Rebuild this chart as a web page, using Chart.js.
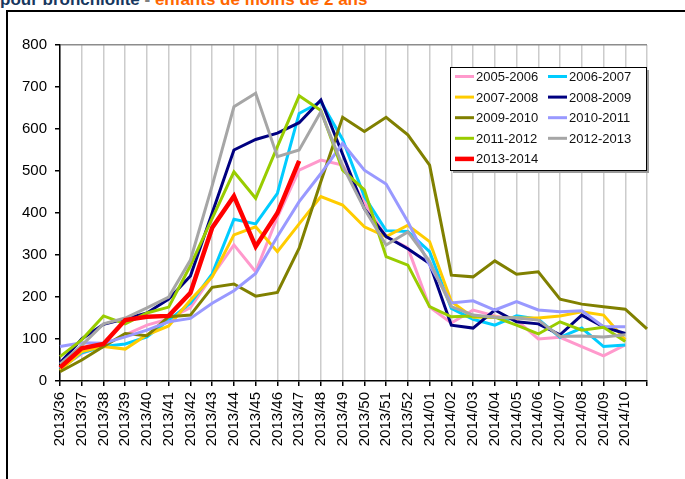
<!DOCTYPE html>
<html>
<head>
<meta charset="utf-8">
<script src="https://cdn.jsdelivr.net/npm/chart.js@4.4.1/dist/chart.umd.min.js"></script>
<style>
  html, body { margin: 0; padding: 0; background: #fff; overflow: hidden; }
  #wrap { position: relative; width: 685px; height: 479px; }
  #frame { position: absolute; left: 6px; top: 10px; width: 800px; height: 600px; border: 2px solid #000; }
  #title { position: absolute; left: 0; top: -10px; font: bold 17px "Liberation Sans", Arial, sans-serif; white-space: nowrap; }
  #title .a { color: #17375e; }
  #title .b { color: #7f7f7f; }
  #title .c { color: #ff6600; }
  canvas { position: absolute; left: 0; top: 0; }
</style>
</head>
<body>
<div id="wrap">
  <div id="title"><span class="a">pour bronchiolite</span><span class="b"> - </span><span class="c">enfants de moins de 2 ans</span></div>
  <div id="frame"></div>
  <canvas id="chart" width="685" height="479"></canvas>
</div>
<script>
// semaines (la dernière n'a pas d'étiquette)
const weeks = ['2013/36','2013/37','2013/38','2013/39','2013/40','2013/41','2013/42','2013/43','2013/44',
  '2013/45','2013/46','2013/47','2013/48','2013/49','2013/50','2013/51','2013/52','2014/01','2014/02',
  '2014/03','2014/04','2014/05','2014/06','2014/07','2014/08','2014/09','2014/10',''];

const yTicks = [0, 100, 200, 300, 400, 500, 600, 700, 800];

const seasons = ['2005-2006','2006-2007','2007-2008','2008-2009','2009-2010','2010-2011','2011-2012','2012-2013','2013-2014'];
const colors = ['#ff99cc','#00ccff','#ffcc00','#000080','#808000','#9999ff','#99cc00','#a6a6a6','#ff0000'];

const s0506 = [30, 65, 85, 110, 133, 148, 175, 250, 324, 260, 390, 502, 526, 514, 425, 344, 317, 176, 138, 169, 155, 145, 100, 104, 82, 60, 86, null];
const s0607 = [28, 67, 82, 88, 105, 145, 185, 255, 385, 374, 447, 637, 665, 575, 439, 358, 356, 308, 173, 147, 133, 155, 147, 104, 126, 82, 86, null];
const s0708 = [25, 70, 82, 76, 110, 131, 193, 248, 348, 367, 308, 374, 439, 419, 367, 344, 371, 332, 189, 152, 152, 150, 150, 155, 165, 157, 98, null];
const s0809 = [43, 100, 135, 148, 162, 195, 250, 400, 550, 575, 590, 615, 669, 540, 410, 344, 315, 280, 133, 126, 169, 141, 136, 110, 157, 129, 113, null];
const s0910 = [22, 50, 82, 113, 108, 153, 157, 223, 231, 202, 211, 316, 475, 628, 594, 628, 586, 514, 252, 248, 286, 254, 260, 195, 183, 177, 171, 124];
const s1011 = [82, 91, 90, 105, 121, 141, 149, 185, 215, 256, 344, 427, 494, 566, 502, 469, 379, 276, 186, 191, 169, 189, 169, 165, 167, 129, 129, null];
const s1112 = [58, 98, 155, 136, 162, 176, 275, 387, 498, 435, 558, 679, 644, 502, 455, 296, 276, 177, 153, 155, 152, 133, 112, 141, 121, 128, 94, null];
const s1213 = [40, 85, 136, 150, 174, 200, 288, 465, 653, 685, 534, 550, 641, 512, 410, 324, 355, 285, 177, 157, 152, 150, 145, 106, 107, 105, 110, null];
const s1314 = [32, 78, 88, 145, 153, 155, 210, 365, 440, 320, 400, 524];

const seriesData = [s0506, s0607, s0708, s0809, s0910, s1011, s1112, s1213, s1314];

// légende dessinée dans la zone du graphique (cadre à droite)
const boxLegend = {
  id: 'boxLegend',
  afterDatasetsDraw(chart) {
    const ctx = chart.ctx;
    const x0 = 450, y0 = 67, w = 196, h = 103;
    ctx.save();
    ctx.fillStyle = '#9a9a9a';
    ctx.fillRect(x0 + 3, y0 + 3, w, h);
    ctx.fillStyle = '#fff';
    ctx.fillRect(x0, y0, w, h);
    ctx.strokeStyle = '#000';
    ctx.lineWidth = 1;
    ctx.strokeRect(x0 + 0.5, y0 + 0.5, w, h);
    ctx.font = '13px "Liberation Sans", Arial, sans-serif';
    ctx.textBaseline = 'middle';
    chart.data.datasets.forEach((ds, i) => {
      const col = i % 2, row = Math.floor(i / 2);
      const lx = col === 0 ? 455 : 548;
      const ly = 76.5 + row * 20.6;
      ctx.strokeStyle = ds.borderColor;
      ctx.lineWidth = ds.borderWidth;
      ctx.beginPath();
      ctx.moveTo(lx, ly);
      ctx.lineTo(lx + 19, ly);
      ctx.stroke();
      ctx.fillStyle = '#111';
      ctx.fillText(ds.label, lx + 21, ly + 1);
    });
    ctx.restore();
  }
};

new Chart(document.getElementById('chart'), {
  type: 'line',
  data: {
    labels: weeks,
    datasets: seasons.map((name, i) => ({
      label: name,
      data: seriesData[i],
      borderColor: colors[i],
      backgroundColor: colors[i],
      borderWidth: i === 8 ? 4.5 : 3,
      pointRadius: 0,
      tension: 0,
      fill: false,
      order: seasons.length - i
    }))
  },
  options: {
    responsive: false,
    animation: false,
    devicePixelRatio: 1,
    layout: { padding: { top: 45, right: 38, left: 0, bottom: 0 } },
    plugins: { legend: { display: false }, tooltip: { enabled: false } },
    scales: {
      x: {
        afterFit: (s) => { s.height = 98; },
        grid: { color: '#cccccc', lineWidth: 1.5, tickColor: '#000', tickLength: 5 },
        border: { color: '#000', width: 1.5 },
        ticks: {
          minRotation: 90, maxRotation: 90, autoSkip: false, padding: 6,
          color: '#000', font: { family: '"Liberation Sans", Arial, sans-serif', size: 15 }
        }
      },
      y: {
        min: 0, max: 800,
        afterFit: (s) => { s.width = 60; },
        afterBuildTicks: (s) => { s.ticks = yTicks.map(v => ({ value: v })); },
        grid: {
          color: (c) => (c.tick && c.tick.value === 800 ? '#8c8c8c' : 'rgba(0,0,0,0)'),
          lineWidth: 1.5, tickColor: '#000', tickLength: 5
        },
        border: { color: '#000', width: 1.5 },
        ticks: { padding: 8, color: '#000', font: { family: '"Liberation Sans", Arial, sans-serif', size: 15 } }
      }
    }
  },
  plugins: [boxLegend]
});
</script>
</body>
</html>
